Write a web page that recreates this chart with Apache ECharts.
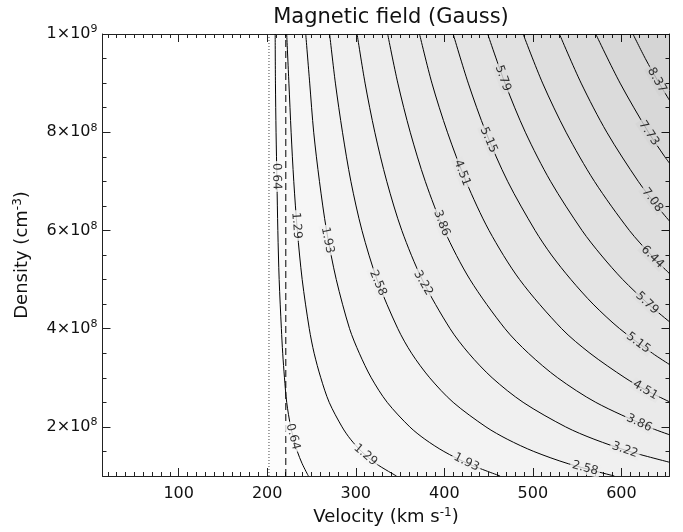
<!DOCTYPE html>
<html><head><meta charset="utf-8">
<script src="https://cdn.jsdelivr.net/npm/echarts@6/dist/echarts.min.js"></script>
<style>html,body{margin:0;padding:0;background:#fff}#c{width:683px;height:532px}</style>
</head><body><div id="c"></div>
<script>
// Contour levels (Gauss)
const levels = [0.64, 1.29, 1.93, 2.58, 3.22, 3.86, 4.51, 5.15, 5.79, 6.44, 7.08, 7.73, 8.37];
// Contour points: [velocity km/s, density in units of 1e8 cm^-3]
const c_064 = [[209,10],[209.3,9],[210,8],[211,7],[212,6],[213.5,5],[216,4],[217.5,3.5],[219.5,3],[222,2.5],[226.5,2],[230,1.75],[234,1.5],[239.5,1.25],[246.5,1]];
const c_129 = [[222,10],[224.5,9],[227,8],[230,7],[234,6],[239.5,5],[247.5,4],[253,3.5],[260.5,3],[270,2.5],[284.5,2],[294,1.75],[306.5,1.5],[323,1.25],[346,1]];
const c_193 = [[243.5,10],[248,9],[252.5,8],[259,7],[267,6],[278,5],[293,4],[304,3.5],[317.5,3],[335.5,2.5],[361,2],[378,1.75],[399.5,1.5],[427,1.25],[463,1]];
const c_258 = [[270.5,10],[277,9],[285,8],[294.5,7],[307,6],[324,5],[347.5,4],[363,3.5],[383.5,3],[410,2.5],[447,2],[471,1.75],[501,1.5],[540,1.25],[592,1]];
const c_322 = [[301.5,10],[310.5,9],[321.5,8],[335,7],[352,6],[375,5],[406.5,4],[427.5,3.5],[454,3],[489,2.5],[537,2],[569,1.75],[609,1.5],[654.3,1.28]];
const c_386 = [[336,10],[347.5,9],[361.5,8],[378.5,7],[400,6],[429,5],[468.5,4],[495,3.5],[528,3],[571,2.5],[630.5,2],[654.3,1.84]];
const c_451 = [[372,10],[386,9],[403.5,8],[424.5,7],[450.5,6],[485,5],[532.5,4],[564.5,3.5],[604,3],[627.5,2.75],[654.3,2.51]];
const c_515 = [[410,10],[427,9],[447,8],[471.5,7],[502.5,6],[521,5.5],[543,5],[568,4.5],[598,4],[635,3.5],[654.3,3.27]];
const c_579 = [[449,10],[468.5,9],[491.5,8],[520,7],[555.5,6],[577,5.5],[601.5,5],[630.5,4.5],[654.3,4.14]];
const c_644 = [[489,10],[511,9],[537.5,8],[569.5,7],[609,6],[633.5,5.5],[654.3,5.12]];
const c_708 = [[530,10],[554.5,9],[583.5,8],[619,7],[640,6.5],[654.3,6.19]];
const c_773 = [[571,10],[598.5,9],[630.5,8],[649,7.5],[654.3,7.37]];
const c_837 = [[613,10],[627,9.5],[642.5,9],[654.3,8.65]];
const contours = [c_064,c_129,c_193,c_258,c_322,c_386,c_451,c_515,c_579,c_644,c_708,c_773,c_837];
// Label anchor positions per level [velocity, density/1e8]
const labelPos = [
  [[210.5,7.1],[229,1.8]],
  [[233,6.1],[311,1.43]],
  [[268,5.8],[425,1.28]],
  [[325,4.93],[559,1.16]],
  [[376,4.93],[604,1.53]],
  [[397,6.15],[620,2.08]],
  [[420,7.17],[627,2.75]],
  [[450,7.84],[619,3.71]],
  [[466,9.1],[629,4.52]],
  [[635,5.46]],
  [[635,6.62]],
  [[631,7.98]],
  [[640,9.06]]
];
// Reference lines (km/s)
const vDotted = 202;
const vDashed = 221;
// Axes
const X_MIN = 14, X_MAX = 654.3, Y_MIN = 1, Y_MAX = 10;
const xMajor = [100, 200, 300, 400, 500, 600];
const yMajor = [2, 4, 6, 8, 10];
const yMinor = [1.5, 2.5, 3, 3.5, 4.5, 5, 5.5, 6.5, 7, 7.5, 8.5, 9, 9.5];
const xMinor = [];
for (let v = 20; v <= 650; v += 10) if (v % 100 !== 0) xMinor.push(v);

const FONT = "'DejaVu Sans', sans-serif";
const A = 0.0145, BASE = 0.012;
const INK = '#111';
function greyAt(layers) {
  const g = Math.round(255 * (1 - BASE) * Math.pow(1 - A, layers));
  return 'rgb(' + g + ',' + g + ',' + g + ')';
}
const chart = echarts.init(document.getElementById('c'));

const frame = { show: true, onZero: false, lineStyle: { color: '#222', width: 1 } };
function xAx(pos, major, withLabel) {
  return {
    type: 'value', position: pos, min: X_MIN, max: X_MAX,
    axisLine: major ? frame : { show: false },
    axisTick: { show: true, inside: true, length: major ? 8 : 4, customValues: major ? xMajor : xMinor, lineStyle: { color: '#222', width: 1 } },
    axisLabel: withLabel ? { show: true, customValues: xMajor, margin: 10, fontSize: 16, color: INK, fontFamily: FONT } : { show: false },
    splitLine: { show: false }
  };
}
function yAx(pos, major, withLabel) {
  return {
    type: 'value', position: pos, min: Y_MIN, max: Y_MAX,
    axisLine: major ? frame : { show: false },
    axisTick: { show: true, inside: true, length: major ? 8 : 4, customValues: major ? yMajor : yMinor, lineStyle: { color: '#222', width: 1 } },
    axisLabel: withLabel ? {
      show: true, customValues: yMajor, margin: 5, color: INK, fontFamily: FONT,
      formatter: function (v) {
        const val = v * 1e8;
        const e = Math.floor(Math.log10(val) + 1e-9);
        const m = Math.round(val / Math.pow(10, e));
        return '{m|' + m + '×10}{e|' + e + '}';
      },
      rich: {
        m: { fontSize: 16, fontFamily: FONT, color: INK },
        e: { fontSize: 11, fontFamily: FONT, color: INK, padding: [0, 0, 9, 0] }
      }
    } : { show: false },
    splitLine: { show: false }
  };
}

const xAxes = [xAx('bottom', true, true), xAx('top', true, false), xAx('bottom', false, false), xAx('top', false, false)];
Object.assign(xAxes[0], {
  name: 'Velocity (km s{s|-1})', nameLocation: 'middle', nameGap: 30,
  nameTextStyle: { fontSize: 18, color: INK, fontFamily: FONT, rich: { s: { fontSize: 12, fontFamily: FONT, color: INK, padding: [0, 0, 9, 0] } } }
});
const yAxes = [yAx('left', true, true), yAx('right', true, false), yAx('left', false, false), yAx('right', false, false)];
Object.assign(yAxes[0], {
  name: 'Density (cm{s|-3})', nameLocation: 'middle', nameGap: 70, nameRotate: 90,
  nameTextStyle: { fontSize: 18, color: INK, fontFamily: FONT, rich: { s: { fontSize: 12, fontFamily: FONT, color: INK, padding: [0, 0, 9, 0] } } }
});

const series = [];
// faint base shading right of the dotted line
series.push({
  type: 'line', data: [[vDotted, Y_MIN], [vDotted, Y_MAX]], symbol: 'none', silent: true, z: 3,
  lineStyle: { color: '#444', width: 1, type: [1, 2] },
  markArea: { silent: true, itemStyle: { color: 'rgba(0,0,0,' + BASE + ')' }, data: [[{ xAxis: vDotted + 1 }, { xAxis: X_MAX }]] }
});
series.push({
  type: 'line', data: [[vDashed, Y_MIN], [vDashed, Y_MAX]], symbol: 'none', silent: true, z: 3,
  lineStyle: { color: '#000', width: 1, type: [7, 4] }
});
// stepped shading above each contour
contours.forEach(function (c) {
  const d = c.slice();
  if (d[d.length - 1][1] <= Y_MIN + 1e-9) d.push([X_MAX, Y_MIN]);
  series.push({
    type: 'line', data: d, symbol: 'none', smooth: false, silent: true, z: 1,
    lineStyle: { width: 0, opacity: 0 },
    areaStyle: { origin: 'end', color: 'rgba(0,0,0,' + A + ')' }
  });
});
const lineStart = series.length;
contours.forEach(function (c) {
  series.push({
    type: 'line', data: c, symbol: 'none', smooth: 0.3, silent: true, z: 2,
    lineStyle: { color: '#000', width: 1 }
  });
});
const labelSeriesIndex = series.length;
series.push({ type: 'scatter', data: [], symbolSize: 0, silent: true, z: 5 });

chart.setOption({
  animation: false,
  backgroundColor: '#fff',
  title: { text: 'Magnetic field (Gauss)', left: 386, top: 2, textAlign: 'center',
    textStyle: { fontFamily: FONT, fontSize: 21, fontWeight: 'normal', color: INK } },
  grid: { left: 102.5, right: 13.5, top: 34, bottom: 56 },
  xAxis: xAxes,
  yAxis: yAxes,
  series: series
});

const items = [];
levels.forEach(function (lv, i) {
  const c = contours[i];
  labelPos[i].forEach(function (p) {
    let j = 0;
    while (j < c.length - 2 && c[j + 1][1] > p[1]) j++;
    const a = chart.convertToPixel({ seriesIndex: lineStart + i }, c[j]);
    const b = chart.convertToPixel({ seriesIndex: lineStart + i }, c[j + 1]);
    const ang = Math.atan2(b[1] - a[1], b[0] - a[0]) * 180 / Math.PI;
    items.push({
      value: p,
      label: {
        show: true, position: 'inside', formatter: lv.toFixed(2), rotate: -ang,
        fontSize: 12, fontFamily: FONT, color: '#000',
        backgroundColor: greyAt(i + 0.5), padding: [0, 2]
      }
    });
  });
});
series[labelSeriesIndex].data = items;
chart.setOption({ series: series });
</script>
</body></html>
